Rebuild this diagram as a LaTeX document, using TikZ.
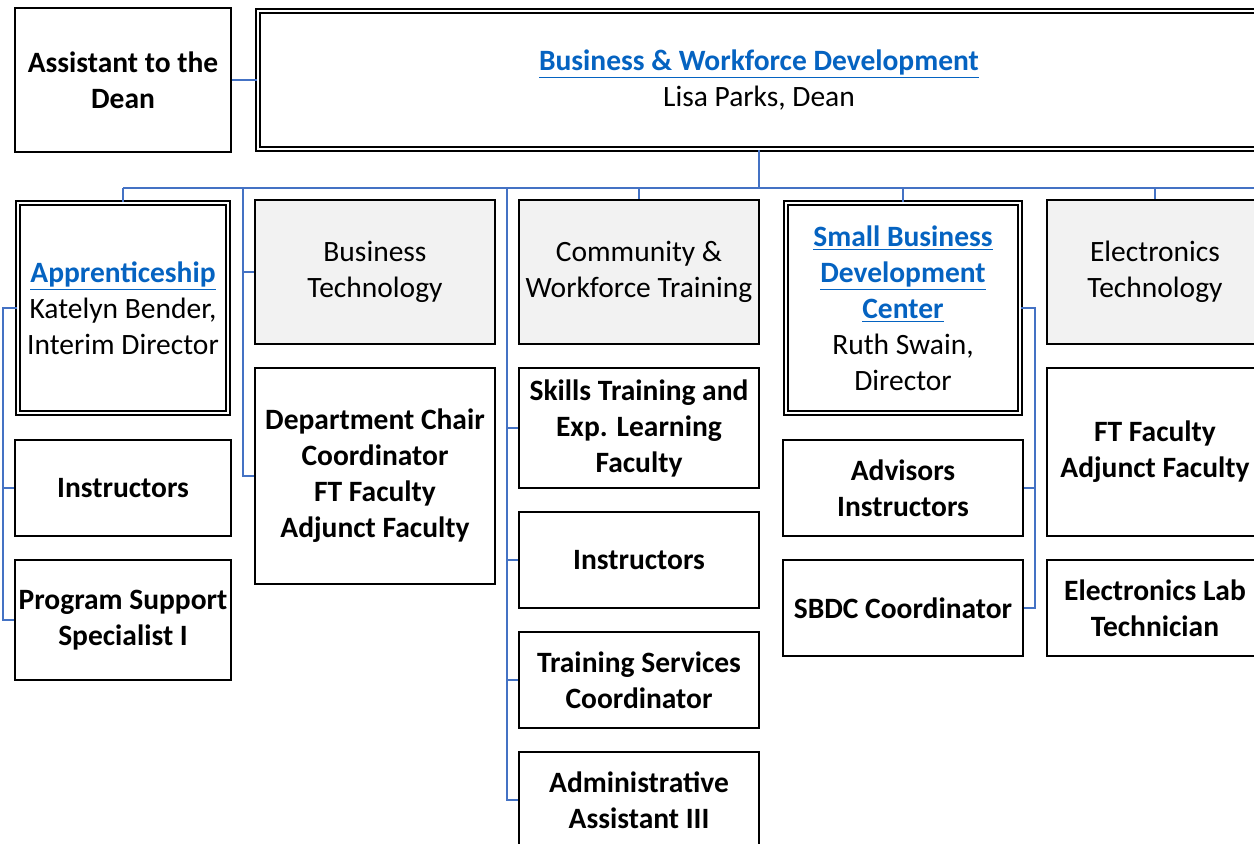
\documentclass[tikz,border=0pt]{standalone}
\usepackage{fontspec}
\setmainfont{Carlito}
\usepackage{tikz}
\usepackage{xcolor}

\definecolor{linkblue}{HTML}{0563C1}
\definecolor{connblue}{HTML}{4472C4}
\definecolor{boxgrey}{HTML}{F2F2F2}
\newcommand{\chartfont}{\fontsize{14.75}{18}\selectfont}
\newcommand{\lnk}[1]{\textcolor{linkblue}{\underline{\textbf{#1}}}}

\begin{document}
\begin{tikzpicture}[x=0.5pt,y=-0.5pt,
  box/.style={rectangle,draw,line width=1pt,fill=white,inner sep=0pt,align=center,font=\chartfont\bfseries},
  greybox/.style={box,fill=boxgrey,font=\chartfont},
  dbox/.style={rectangle,draw,line width=0.8pt,double,double distance=1.2pt,inner sep=0pt,align=center,font=\chartfont},
  conn/.style={draw=connblue,line width=1pt}]
\useasboundingbox (0,0) rectangle (1254,844);
\clip (0,0) rectangle (1254,844);
% top row
\node [box,minimum width=108pt,minimum height=72pt] (asst) at (123,80) {Assistant to the\\Dean};
\node [dbox,minimum width=501pt,minimum height=69pt] (dean) at (759,80)
  {\lnk{Business \& Workforce Development}\\Lisa Parks, Dean};
% Apprenticeship
\node [dbox,minimum width=105pt,minimum height=105pt] (appr) at (123,308)
  {\lnk{Apprenticeship}\\Katelyn Bender,\\Interim Director};
\node [box,minimum width=108pt,minimum height=48pt] (apinst) at (123,488) {Instructors};
\node [box,minimum width=108pt,minimum height=60pt] (apsupp) at (123,620) {Program Support\\Specialist I};
% Business Technology
\node [greybox,minimum width=120pt,minimum height=72pt] (bt) at (375,272) {Business\\Technology};
\node [box,minimum width=120pt,minimum height=108pt] (chair) at (375,476)
  {Department Chair\\Coordinator\\FT Faculty\\Adjunct Faculty};
% Community & Workforce Training
\node [greybox,minimum width=120pt,minimum height=72pt] (cw) at (639,272) {Community \&\\Workforce Training};
\node [box,minimum width=120pt,minimum height=60pt] (skills) at (639,428)
  {Skills Training and\\Exp. Learning\\Faculty};
\node [box,minimum width=120pt,minimum height=48pt] (cwinst) at (639,560) {Instructors};
\node [box,minimum width=120pt,minimum height=48pt] (train) at (639,680) {Training Services\\Coordinator};
\node [box,minimum width=120pt,minimum height=48pt] (admin) at (639,800) {Administrative\\Assistant III};
% Small Business Development Center
\node [dbox,minimum width=117pt,minimum height=105pt] (sbdc) at (903,308)
  {\lnk{Small Business}\\\lnk{Development}\\\lnk{Center}\\Ruth Swain,\\Director};
\node [box,minimum width=120pt,minimum height=48pt] (advis) at (903,488) {Advisors\\Instructors};
\node [box,minimum width=120pt,minimum height=48pt] (sbcoord) at (903,608) {SBDC Coordinator};
% Electronics Technology
\node [greybox,minimum width=108pt,minimum height=72pt] (et) at (1155,272) {Electronics\\Technology};
\node [box,minimum width=108pt,minimum height=84pt] (etfac) at (1155,452) {FT Faculty\\Adjunct Faculty};
\node [box,minimum width=108pt,minimum height=48pt] (ettech) at (1155,608) {Electronics Lab\\Technician};

% connectors
\coordinate (busL) at (123,188);
\coordinate (busR) at (1262,188);
\coordinate (btrail) at (243,188);
\coordinate (cwrail) at (507,188);
\coordinate (aprail) at (3,308);
\coordinate (sbrail) at (1035,308);
\draw [conn] (asst.east) -- (dean.west);
\draw [conn] (dean.south) -- (dean.south |- busL);
\draw [conn] (busL) -- (busR);
\draw [conn] (busL) -- (appr.north);
\draw [conn] (cw.north) -- (cw.north |- busL);
\draw [conn] (sbdc.north) -- (sbdc.north |- busL);
\draw [conn] (et.north) -- (et.north |- busL);
\draw [conn] (btrail) |- (chair.west);
\draw [conn] (btrail |- bt.west) -- (bt.west);
\draw [conn] (cwrail) |- (admin.west);
\foreach \n in {skills,cwinst,train}
  \draw [conn] (cwrail |- \n.west) -- (\n.west);
\draw [conn] (appr.west) -- (aprail) |- (apsupp.west);
\draw [conn] (aprail |- apinst.west) -- (apinst.west);
\draw [conn] (sbdc.east) -- (sbrail) |- (sbcoord.east);
\draw [conn] (sbrail |- advis.east) -- (advis.east);
\end{tikzpicture}
\end{document}
